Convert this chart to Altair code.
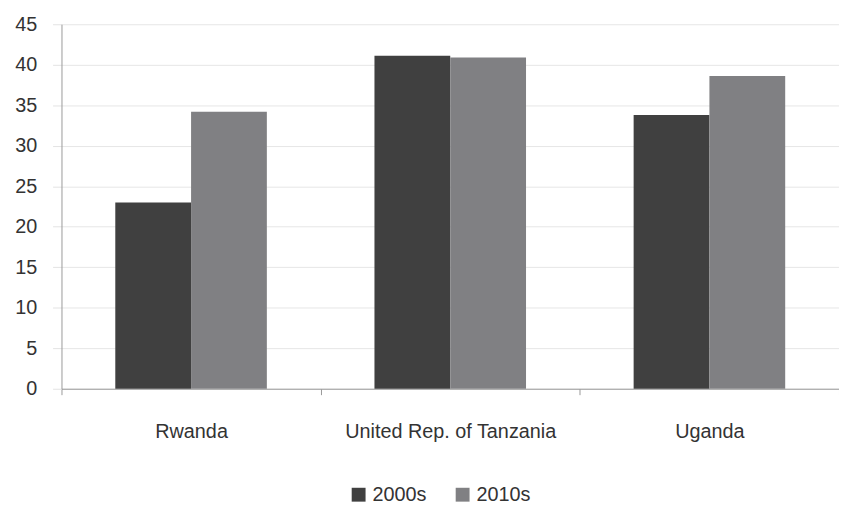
import altair as alt
import pandas as pd

countries = ["Rwanda", "United Rep. of Tanzania", "Uganda"]
decades = ["2000s", "2010s"]
values_2000s = [23.0, 41.1, 33.8]
values_2010s = [34.2, 40.9, 38.6]
y_ticks = [0, 5, 10, 15, 20, 25, 30, 35, 40, 45]

rows = []
for c, a, b in zip(countries, values_2000s, values_2010s):
    rows.append({"country": c, "decade": "2000s", "value": a})
    rows.append({"country": c, "decade": "2010s", "value": b})
df = pd.DataFrame(rows)

FONT = "Liberation Sans"

chart = alt.Chart(df).mark_bar().encode(
    x=alt.X("country:N", sort=countries, title=None,
            scale=alt.Scale(paddingInner=0, paddingOuter=0),
            axis=alt.Axis(labelAngle=0, tickBand="extent", tickSize=6,
                          tickColor="#999999", domainColor="#999999",
                          labelFontSize=20, labelFont=FONT, labelColor="#333333",
                          labelBaseline="middle", labelPadding=37, labelLimit=0,
                          grid=False)),
    xOffset=alt.XOffset("decade:N", sort=decades,
                        scale=alt.Scale(paddingInner=0, paddingOuter=0.71)),
    y=alt.Y("value:Q", title=None,
            scale=alt.Scale(domain=[0, 45], nice=False),
            axis=alt.Axis(values=y_ticks, tickSize=9, tickColor="#e3e3e3",
                          domainColor="#999999", gridColor="#e6e6e6",
                          labelFontSize=20, labelFont=FONT, labelColor="#333333",
                          labelPadding=16)),
    color=alt.Color("decade:N", sort=decades,
                    scale=alt.Scale(domain=decades, range=["#404040", "#808083"]),
                    legend=alt.Legend(title=None, orient="none", legendX=290, legendY=465,
                                      direction="horizontal", symbolType="square",
                                      symbolSize=196, symbolStrokeWidth=0,
                                      labelFontSize=20, labelFont=FONT,
                                      labelColor="#333333", labelOffset=4,
                                      columnPadding=26)),
).properties(
    width=785, height=368,
    autosize=alt.AutoSizeParams(type="none"),
    padding={"left": 54, "top": 14, "right": 0, "bottom": 115},
).configure_view(stroke=None)

chart.save("out.html", embed_options={"renderer": "svg", "actions": False})
